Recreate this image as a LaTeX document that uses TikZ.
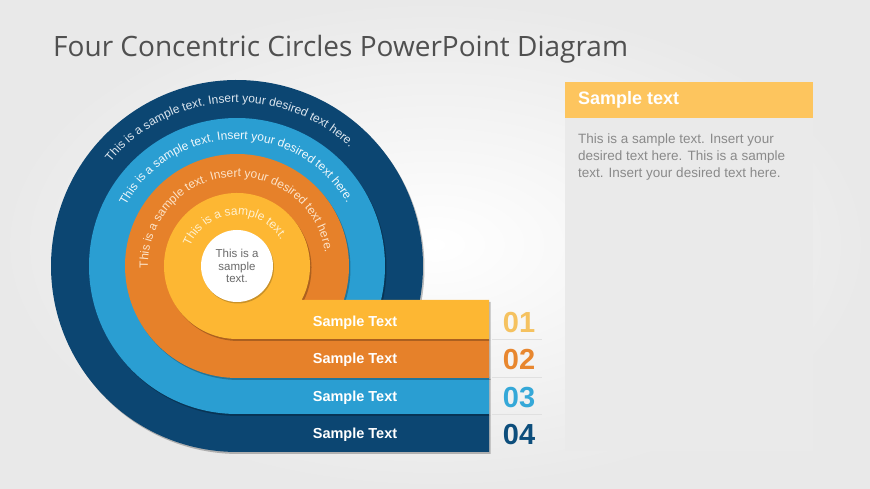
\documentclass[tikz,border=0pt]{standalone}
\usepackage{fontspec}
\setmainfont{Liberation Sans}
\newfontfamily\titlefont{Open Sans}
\usetikzlibrary{decorations.text,shadows,calc}
\definecolor{bgout}{HTML}{E9E9E9}
\definecolor{darkring}{HTML}{0C4672}
\definecolor{bluering}{HTML}{2A9ED2}
\definecolor{orangering}{HTML}{E6812A}
\definecolor{yellowring}{HTML}{FDB733}
\definecolor{darktxt}{HTML}{DCE6EF}
\definecolor{bluetxt}{HTML}{F0F8FC}
\definecolor{orangetxt}{HTML}{FCE3C8}
\definecolor{yellowtxt}{HTML}{FFF1D0}
\definecolor{num1}{HTML}{F5C260}
\definecolor{num2}{HTML}{E8872F}
\definecolor{num3}{HTML}{35A8D8}
\definecolor{num4}{HTML}{0D4E7C}
\definecolor{panel}{HTML}{EAEAEA}
\definecolor{panelhead}{HTML}{FDC55E}
\definecolor{bodytxt}{HTML}{8A8A8A}
\definecolor{titletxt}{HTML}{505050}
\definecolor{centertxt}{HTML}{6A6A6A}
\newcommand\ringfont{\fontsize{12}{13}\selectfont}
\newcommand\ringshape[3]{%
  \pgfmathsetmacro\rsang{-asin((#1-#2)/#1)}%
  \fill[#3, drop shadow={shadow xshift=1.5pt, shadow yshift=-2pt, opacity=0.25, fill=black}]
    ($(C)+(270:#1)$) -- (489,223-#1) -- (489,223-#1+#2) -- ($(C)+(\rsang:#1)$)
    arc[start angle=\rsang, end angle=270, radius=#1] -- cycle;}
\newcommand\ringtext[4]{% radius, center angle, color, text
  \path[decorate, decoration={text along path, text align=center,
     text={|\ringfont\color{#3}|#4}}]
    ($(C)+(#2+90:#1)$) arc[start angle=#2+90, end angle=#2-90, radius=#1];}
\tikzset{
  bandlabel/.style={font=\fontsize{14.5}{16}\selectfont\bfseries, text=white},
  numlabel/.style={font=\fontsize{29}{31}\selectfont\bfseries},
  sepline/.style={draw=black!12, line width=0.6pt}
}
\begin{document}
\begin{tikzpicture}[x=1pt,y=1pt]
\useasboundingbox (0,0) rectangle (870,489);
\shade[inner color=white, outer color=bgout] (0,0) rectangle (870,489);

% title
\node[anchor=base west, inner sep=0, text=titletxt, font=\titlefont\fontsize{28}{32}\selectfont] (title) at (53,432) {Four Concentric Circles PowerPoint Diagram};

% right panel
\fill[panel] (565,38) rectangle (813,407);
\fill[panelhead] (565,371) rectangle (813,407);
\node[anchor=west, inner sep=0, text=white, font=\fontsize{18}{20}\selectfont\bfseries] (head) at (578,389) {Sample text};
\node[anchor=north west, inner sep=0, text=bodytxt, align=left, font=\fontsize{13.5}{17}\selectfont] (body) at (578,355)
  {This is a sample text. Insert your\\desired text here. This is a sample\\text. Insert your desired text here.};

% concentric shapes
\coordinate (C) at (237,223);
\ringshape{186}{38}{darkring}
\ringshape{148}{37}{bluering}
\ringshape{112}{39}{orangering}
\ringshape{73}{39}{yellowring}
\fill[white, drop shadow={shadow xshift=1pt, shadow yshift=-1.5pt, opacity=0.2, fill=black}] (C) circle[radius=36];

% curved texts
\ringtext{163.5}{93.5}{darktxt}{This is a sample text. Insert your desired text here.}
\ringtext{126.5}{90.5}{bluetxt}{This is a sample text. Insert your desired text here.}
\ringtext{89}{95}{orangetxt}{This is a sample text. Insert your desired text here.}
\ringtext{51}{94}{yellowtxt}{This is a sample text.}

\node[align=center, text=centertxt, font=\fontsize{11.5}{12.5}\selectfont, inner sep=0] (center) at (C) {This is a\\sample\\text.};

% band labels
\node[bandlabel] (b1) at (355,166) {Sample Text};
\node[bandlabel] (b2) at (355,129) {Sample Text};
\node[bandlabel] (b3) at (355,91) {Sample Text};
\node[bandlabel] (b4) at (355,54) {Sample Text};

% numbers
\node[numlabel, text=num1] (n1) at (519,166) {01};
\node[numlabel, text=num2] (n2) at (519,129) {02};
\node[numlabel, text=num3] (n3) at (519,91) {03};
\node[numlabel, text=num4] (n4) at (519,54) {04};
\coordinate (s1a) at (492,150); \coordinate (s1b) at (542,150);
\coordinate (s2a) at (492,112); \coordinate (s2b) at (542,112);
\coordinate (s3a) at (492,75);  \coordinate (s3b) at (542,75);
\draw[sepline] (s1a) -- (s1b);
\draw[sepline] (s2a) -- (s2b);
\draw[sepline] (s3a) -- (s3b);
\end{tikzpicture}
\end{document}
